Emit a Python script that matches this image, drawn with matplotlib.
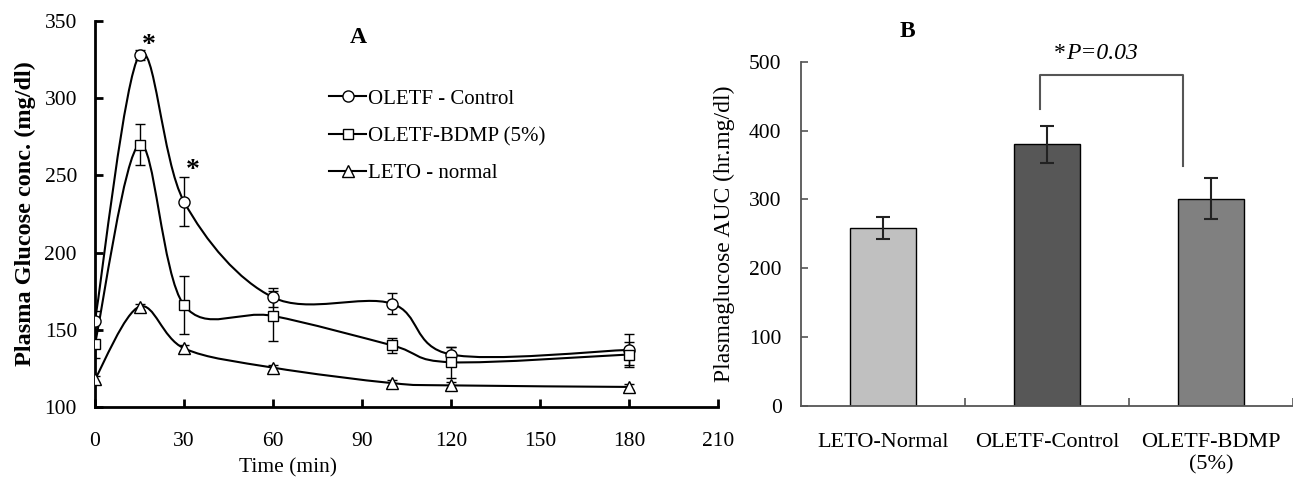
import numpy as np
import matplotlib
matplotlib.use('Agg')
import matplotlib.pyplot as plt
from matplotlib.path import Path
from matplotlib.patches import PathPatch
from matplotlib.lines import Line2D

plt.rcParams['font.family'] = ['Liberation Serif', 'DejaVu Serif']

# 数据 (A: 血糖曲线)
time = [0, 15, 30, 60, 100, 120, 180]
control = [156, 328, 233, 171, 167, 134, 137]
control_err = [6, 3, 16, 6, 7, 5, 10]
bdmp = [141, 270, 166, 159, 140, 129, 134]
bdmp_err = [9, 13, 19, 16, 5, 10, 8]
leto = [118, 165, 138, 125.5, 115.5, 114, 113]
leto_err = [2, 2, 2, 2, 2, 2, 2]
series_names = ['OLETF - Control', 'OLETF-BDMP (5%)', 'LETO - normal']

# 数据 (B: AUC 柱状图)
groups = ['LETO-Normal', 'OLETF-Control', 'OLETF-BDMP\n(5%)']
auc = [259, 380, 301]
auc_err = [16, 27, 30]
bar_colors = ['#c0c0c0', '#575757', '#808080']


def smooth_path(x, y):
    # Excel 风格的平滑线（Catmull-Rom -> 三次贝塞尔）
    pts = np.column_stack([x, y]).astype(float)
    n = len(pts)
    verts = [pts[0]]
    codes = [Path.MOVETO]
    for i in range(n - 1):
        p0 = pts[i - 1] if i > 0 else pts[i]
        p1 = pts[i]
        p2 = pts[i + 1]
        p3 = pts[i + 2] if i + 2 < n else pts[i + 1]
        verts += [p1 + (p2 - p0) / 6, p2 - (p3 - p1) / 6, p2]
        codes += [Path.CURVE4] * 3
    return Path(verts, codes)


fig = plt.figure(figsize=(12.93, 4.8), dpi=100)
ax1 = fig.add_axes([95 / 1293, 73 / 480, 623 / 1293, 386 / 480])
ax2 = fig.add_axes([801 / 1293, 74.3 / 480, 492 / 1293, 343.7 / 480])

# ---- A ----
markers = ['o', 's', '^']
msizes = [8, 7, 8]
handles = []
for ys, es, mk, ms, name in zip([control, bdmp, leto], [control_err, bdmp_err, leto_err],
                                markers, msizes, series_names):
    ax1.add_patch(PathPatch(smooth_path(time, ys), facecolor='none', edgecolor='black', lw=1.5, zorder=2))
    ax1.errorbar(time, ys, yerr=es, fmt='none', ecolor='black', elinewidth=1.0, capsize=3.5,
                 capthick=1.0, zorder=3)
    ax1.plot(time, ys, linestyle='none', marker=mk, ms=ms, mfc='white', mec='black', mew=1.0, zorder=4)
    handles.append(Line2D([], [], color='black', lw=1.5, marker=mk, ms=ms, mfc='white', mec='black',
                          mew=1.0, label=name))

ax1.set_xlim(0, 210)
ax1.set_ylim(100, 350)
ax1.set_xticks(range(0, 211, 30))
ax1.set_yticks(range(100, 351, 50))
for s in ['top', 'right']:
    ax1.spines[s].set_visible(False)
for s in ['left', 'bottom']:
    ax1.spines[s].set_linewidth(2)
ax1.tick_params(axis='x', direction='in', length=6, width=2, pad=18, labelsize=15.5)
ax1.tick_params(axis='y', direction='in', length=6, width=2, pad=13, labelsize=15.5)
ax1.set_xlabel('Time (min)', fontsize=15.5, labelpad=5, x=0.31)
ax1.set_ylabel('Plasma Glucose conc. (mg/dl)', fontsize=17.5, fontweight='bold', labelpad=6)
ax1.text(88.6, 339.6, 'A', fontsize=17, fontweight='bold', ha='center', va='center')
ax1.text(18, 334, '*', fontsize=20, fontweight='bold', ha='center', va='center')
ax1.text(33, 253, '*', fontsize=20, fontweight='bold', ha='center', va='center')
ax1.legend(handles=handles, loc='upper left', bbox_to_anchor=(0.362, 0.845), frameon=False,
           fontsize=15, handlelength=1.8, handletextpad=0.1, labelspacing=0.85, borderaxespad=0)

# ---- B ----
xpos = np.arange(len(groups))
ax2.bar(xpos, auc, width=0.4, color=bar_colors, edgecolor='black', linewidth=1.0, zorder=2)
ax2.errorbar(xpos, auc, yerr=auc_err, fmt='none', ecolor='#222222', elinewidth=1.5, capsize=5,
             capthick=1.5, zorder=3)
ax2.set_xlim(-0.5, 2.5)
ax2.set_ylim(0, 500)
ax2.set_yticks(range(0, 501, 100))
ax2.set_xticks(xpos)
ax2.set_xticklabels(groups)
ax2.set_xticks([0.5, 1.5, 2.5], minor=True)
for s in ['top', 'right']:
    ax2.spines[s].set_visible(False)
for s in ['left', 'bottom']:
    ax2.spines[s].set_linewidth(1.3)
    ax2.spines[s].set_color('#555555')
ax2.tick_params(axis='x', which='major', length=0, pad=20, labelsize=16)
ax2.tick_params(axis='x', which='minor', direction='in', length=6, width=1.2, color='#555555')
ax2.tick_params(axis='y', direction='in', length=5, width=1.2, color='#555555', pad=14, labelsize=15.5)
ax2.set_ylabel('Plasmaglucose AUC (hr.mg/dl)', fontsize=17, labelpad=10)
ax2.plot([0.957, 0.957, 1.829, 1.829], [431, 481, 481, 348], color='#555555', lw=1.5, clip_on=False)
ax2.text(1.116, 513, '*', fontsize=17, ha='right', va='center', clip_on=False)
ax2.text(1.116, 513, 'P=0.03', fontsize=17, style='italic', ha='left', va='center', clip_on=False)
ax2.text(0.146, 544, 'B', fontsize=17, fontweight='bold', ha='center', va='center', clip_on=False)

fig.savefig('out.png', dpi=100)
